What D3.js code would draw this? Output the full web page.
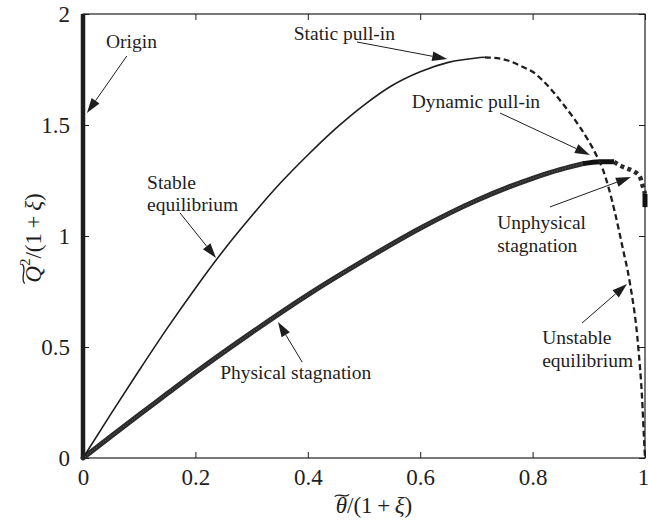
<!DOCTYPE html>
<html>
<head>
<meta charset="utf-8">
<script src="https://cdn.jsdelivr.net/npm/d3@7/dist/d3.min.js"></script>
<style>
  html, body { margin: 0; padding: 0; background: #fff; }
  svg { display: block; }
  text { font-family: "Liberation Serif", "DejaVu Serif", serif; fill: #1e1e1e; }
</style>
</head>
<body>
<svg id="chart" width="648" height="520"></svg>
<script>
// Stable equilibrium branch (rises to the static pull-in point)
const stableX = [0, 0.05, 0.1, 0.15, 0.2, 0.25, 0.3, 0.35, 0.4, 0.45, 0.5, 0.55, 0.6, 0.65, 0.7, 0.715];
const stableY = [0, 0.2, 0.395, 0.585, 0.765, 0.935, 1.09, 1.235, 1.365, 1.485, 1.59, 1.678, 1.74, 1.782, 1.802, 1.805];

// Unstable equilibrium branch (falls from the static pull-in point to theta = 1)
const unstableX = [0.715, 0.75, 0.783, 0.8, 0.819, 0.854, 0.884, 0.915, 0.925, 0.935, 0.947, 0.96, 0.973, 0.988, 0.995, 0.998, 1.0];
const unstableY = [1.805, 1.795, 1.761, 1.74, 1.698, 1.595, 1.491, 1.356, 1.3, 1.22, 1.1, 0.95, 0.79, 0.5, 0.26, 0.1, 0];

// Physical stagnation curve
const physX = [0, 0.05, 0.1, 0.15, 0.2, 0.3, 0.4, 0.5, 0.6, 0.7, 0.8, 0.85, 0.89];
const physY = [0, 0.098, 0.195, 0.29, 0.385, 0.565, 0.735, 0.89, 1.035, 1.16, 1.26, 1.3, 1.326];

// Dense run around the dynamic pull-in point
const pullX = [0.89, 0.92, 0.945];
const pullY = [1.326, 1.335, 1.334];

// Unphysical stagnation continuation
const unphysX = [0.945, 0.955, 0.967, 0.979, 0.991, 0.996, 1.0];
const unphysY = [1.334, 1.318, 1.305, 1.292, 1.266, 1.225, 1.19];

// Terminal segment on theta = 1
const endX = [1, 1];
const endY = [1.19, 1.13];

// Origin solution along theta = 0
const originX = [0, 0];
const originY = [0, 2];

// Axis ticks
const xTicks = [0, 0.2, 0.4, 0.6, 0.8, 1];
const xTickLabels = ["0", "0.2", "0.4", "0.6", "0.8", "1"];
const yTicks = [0, 0.5, 1, 1.5, 2];
const yTickLabels = ["0", "0.5", "1", "1.5", "2"];

// Annotations: label lines, anchor of text, arrow start and tip (all in data units)
const notes = [
  { lines: ["Origin"], at: [0.041, 1.874], from: [0.078, 1.811], to: [0.007, 1.554] },
  { lines: ["Static pull-in"], at: [0.375, 1.910], from: [0.4875, 1.874], to: [0.648, 1.797] },
  { lines: ["Stable", "equilibrium"], at: [0.114, 1.243], from: [0.1726, 1.104], to: [0.2367, 0.901] },
  { lines: ["Dynamic pull-in"], at: [0.585, 1.604], from: [0.742, 1.554], to: [0.902, 1.365] },
  { lines: ["Unphysical", "stagnation"], at: [0.737, 1.059], from: [0.831, 1.131], to: [0.975, 1.266] },
  { lines: ["Unstable", "equilibrium"], at: [0.817, 0.541], from: [0.888, 0.608], to: [0.968, 0.784] },
  { lines: ["Physical stagnation"], at: [0.244, 0.387], from: [0.39, 0.432], to: [0.347, 0.613] }
];

const W = 648, H = 520;
const margin = { left: 83, right: 3, top: 14, bottom: 62 };
const svg = d3.select("#chart");

const x = d3.scaleLinear().domain([0, 1]).range([margin.left, W - margin.right]);
const y = d3.scaleLinear().domain([0, 2]).range([H - margin.bottom, margin.top]);

const ink = "#1e1e1e";
const toPts = (xs, ys) => xs.map((v, i) => [v, ys[i]]);
const line = d3.line().x(d => x(d[0])).y(d => y(d[1])).curve(d3.curveMonotoneX);
const straight = d3.line().x(d => x(d[0])).y(d => y(d[1]));

// Axes with inward ticks on all four sides
const tickFont = "23px";
const gx = svg.append("g").attr("transform", `translate(0,${y(0)})`)
  .call(d3.axisBottom(x).tickValues(xTicks).tickSize(-6).tickPadding(11)
    .tickFormat((d, i) => xTickLabels[i]));
const gxTop = svg.append("g").attr("transform", `translate(0,${y(2)})`)
  .call(d3.axisTop(x).tickValues(xTicks).tickSize(-6).tickFormat(""));
const gy = svg.append("g").attr("transform", `translate(${x(0)},0)`)
  .call(d3.axisLeft(y).tickValues(yTicks).tickSize(-6).tickPadding(13)
    .tickFormat((d, i) => yTickLabels[i]));
const gyRight = svg.append("g").attr("transform", `translate(${x(1)},0)`)
  .call(d3.axisRight(y).tickValues(yTicks).tickSize(-6).tickFormat(""));

[gx, gxTop, gy, gyRight].forEach(g => {
  g.select(".domain").remove();
  g.selectAll(".tick line").attr("stroke", ink).attr("stroke-width", 1);
  g.selectAll(".tick text").attr("font-family", "Liberation Serif, serif")
    .attr("font-size", tickFont).attr("fill", ink);
});
// keep the last x label inside the canvas
gx.selectAll(".tick text").filter((d, i) => i === xTicks.length - 1).attr("dx", "-2");

// Frame
svg.append("rect")
  .attr("x", x(0)).attr("y", y(2))
  .attr("width", x(1) - x(0)).attr("height", y(0) - y(2))
  .attr("fill", "none").attr("stroke", ink).attr("stroke-width", 1.2);

// Origin solution
svg.append("path").datum(toPts(originX, originY))
  .attr("d", straight).attr("fill", "none")
  .attr("stroke", ink).attr("stroke-width", 4.5);

// Physical stagnation (dense marker trail)
const physPts = toPts(physX, physY);
svg.append("path").datum(physPts).attr("d", line).attr("fill", "none")
  .attr("stroke", "#2b2b2b").attr("stroke-width", 5).attr("stroke-linecap", "round");
svg.append("path").datum(physPts).attr("d", line).attr("fill", "none")
  .attr("stroke", "#b0b0b0").attr("stroke-width", 0.8)
  .attr("stroke-dasharray", "1,1.8").attr("opacity", 0.55);

svg.append("path").datum(toPts(pullX, pullY)).attr("d", line).attr("fill", "none")
  .attr("stroke", "#111").attr("stroke-width", 5);

svg.append("path").datum(toPts(unphysX, unphysY)).attr("d", line).attr("fill", "none")
  .attr("stroke", "#2a2a2a").attr("stroke-width", 4.5)
  .attr("stroke-dasharray", "4,3.5");

svg.append("path").datum(toPts(endX, endY)).attr("d", straight).attr("fill", "none")
  .attr("stroke", "#111").attr("stroke-width", 5);

// Stable branch (solid) and unstable branch (dashed)
svg.append("path").datum(toPts(stableX, stableY)).attr("d", line).attr("fill", "none")
  .attr("stroke", ink).attr("stroke-width", 1.6);
svg.append("path").datum(toPts(unstableX, unstableY)).attr("d", line).attr("fill", "none")
  .attr("stroke", ink).attr("stroke-width", 2.3).attr("stroke-dasharray", "6,3.5");

// Annotations with arrows
const noteG = svg.append("g");
notes.forEach(n => {
  const x1 = x(n.from[0]), y1 = y(n.from[1]);
  const x2 = x(n.to[0]), y2 = y(n.to[1]);
  const dx = x2 - x1, dy = y2 - y1, len = Math.hypot(dx, dy);
  const ux = dx / len, uy = dy / len;
  const headL = 15, headW = 4.8;
  const bx = x2 - ux * headL, by = y2 - uy * headL;
  noteG.append("line").attr("x1", x1).attr("y1", y1).attr("x2", bx).attr("y2", by)
    .attr("stroke", ink).attr("stroke-width", 1);
  noteG.append("path")
    .attr("d", `M${x2},${y2}L${bx - uy * headW},${by + ux * headW}L${bx + uy * headW},${by - ux * headW}Z`)
    .attr("fill", ink);
  n.lines.forEach((t, i) => {
    noteG.append("text")
      .attr("x", x(n.at[0])).attr("y", y(n.at[1]) + i * 22.5)
      .attr("dominant-baseline", "central")
      .attr("font-size", "19.5px")
      .text(t);
  });
});

// Wide tilde accent drawn over the first glyph of a title
function tildeOver(g, textNode) {
  const b = textNode.getExtentOfChar(0);
  const w = b.width + 3, x0 = b.x - 1, y0 = b.y + 3;
  g.append("path")
    .attr("d", `M${x0},${y0 + 1.2}C${x0 + w * 0.3},${y0 - 3.8} ${x0 + w * 0.7},${y0 + 3.8} ${x0 + w},${y0 - 1.2}`)
    .attr("fill", "none").attr("stroke", ink).attr("stroke-width", 1.3);
}

// Axis titles
const gxt = svg.append("g");
const xt = gxt.append("text")
  .attr("x", 374).attr("y", 505)
  .attr("text-anchor", "middle").attr("dominant-baseline", "central")
  .attr("font-size", "23px");
xt.append("tspan").attr("font-style", "italic").text("\u03B8");
xt.append("tspan").text("/(1\u2009+\u2009");
xt.append("tspan").attr("font-style", "italic").text("\u03BE");
xt.append("tspan").text(")");
tildeOver(gxt, xt.node());

const gyt = svg.append("g").attr("transform", "translate(33,238) rotate(-90)");
const yt = gyt.append("text")
  .attr("x", 0).attr("y", 0)
  .attr("text-anchor", "middle").attr("dominant-baseline", "central")
  .attr("font-size", "23px");
yt.append("tspan").attr("font-style", "italic").text("Q");
yt.append("tspan").attr("font-size", "15px").attr("dy", "-8").text("2");
yt.append("tspan").attr("dy", "8").text("/(1\u2009+\u2009");
yt.append("tspan").attr("font-style", "italic").text("\u03BE");
yt.append("tspan").text(")");
tildeOver(gyt, yt.node());
</script>
</body>
</html>
